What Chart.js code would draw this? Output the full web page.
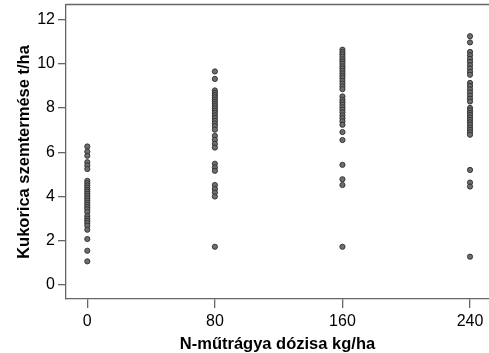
<!DOCTYPE html>
<html>
<head>
<meta charset="utf-8">
<script src="https://cdn.jsdelivr.net/npm/chart.js@4.4.0/dist/chart.umd.min.js"></script>
<style>
  html, body { margin: 0; padding: 0; background: #fff; }
  #wrap { width: 489px; height: 353px; }
</style>
</head>
<body>
<div id="wrap"><canvas id="c" width="489" height="353"></canvas></div>
<script>
// N-fertiliser doses (kg/ha) and the grain yields measured at each dose (t/ha)
const doses = [0, 80, 160, 240];
const yieldAt0 = [6.26, 6.03, 5.84, 5.55, 5.40, 5.24, 4.71, 4.60, 4.50, 4.40, 4.30, 4.22, 4.12, 4.02, 3.92, 3.82,
  3.72, 3.62, 3.52, 3.42, 3.30, 3.12, 3.00, 2.90, 2.80, 2.68, 2.50, 2.08, 1.55, 1.07];
const yieldAt80 = [9.65, 9.31, 8.79, 8.68, 8.58, 8.48, 8.38, 8.28, 8.18, 8.08, 7.98, 7.88, 7.78, 7.66, 7.55, 7.42,
  7.30, 7.18, 7.02, 6.74, 6.56, 6.38, 6.21, 5.48, 5.31, 5.16, 4.52, 4.34, 4.18, 4.00, 1.73];
const yieldAt160 = [10.63, 10.52, 10.42, 10.31, 10.20, 10.10, 10.00, 9.88, 9.78, 9.67, 9.56, 9.45, 9.35, 9.22,
  9.10, 8.97, 8.85, 8.52, 8.37, 8.26, 8.15, 8.03, 7.92, 7.80, 7.66, 7.54, 7.40, 7.24, 6.91, 6.55, 5.43, 4.78,
  4.52, 1.73];
const yieldAt240 = [11.24, 10.96, 10.53, 10.38, 10.22, 10.08, 9.93, 9.78, 9.63, 9.50, 9.13, 8.99, 8.84, 8.70,
  8.56, 8.42, 8.29, 8.00, 7.89, 7.78, 7.68, 7.57, 7.46, 7.35, 7.24, 7.12, 7.01, 6.90, 6.79, 5.20, 4.63, 4.45, 1.28];
const yTicks = [0, 2, 4, 6, 8, 10, 12];

const yieldsByDose = [yieldAt0, yieldAt80, yieldAt160, yieldAt240];
const points = [];
doses.forEach((d, i) => yieldsByDose[i].forEach(v => points.push({ x: d, y: v })));

const axisGrey = '#666666';
const labelFont = { family: "'Liberation Sans', Arial, sans-serif", size: 16 };
const titleFont = { family: "'Liberation Sans', Arial, sans-serif", size: 16.5, weight: 'bold', lineHeight: 1.0 };

// closes the plot frame along the top edge
const frameTop = {
  id: 'frameTop',
  afterDraw(chart) {
    const a = chart.chartArea, ctx = chart.ctx;
    const y = Math.round(a.top) - 0.5;
    ctx.save();
    ctx.strokeStyle = axisGrey;
    ctx.lineWidth = 1.5;
    ctx.beginPath();
    ctx.moveTo(a.left, y);
    ctx.lineTo(a.right, y);
    ctx.stroke();
    ctx.restore();
  }
};

// fixed axis box sizes, without the label overhang padding Chart.js adds
function fixBox(size, horizontal) {
  return s => {
    if (horizontal) s.height = size; else s.width = size;
    s.paddingLeft = 0; s.paddingRight = 0; s.paddingTop = 0; s.paddingBottom = 0;
  };
}

new Chart(document.getElementById('c'), {
  type: 'scatter',
  data: {
    datasets: [{
      data: points,
      pointRadius: 2.6,
      pointHoverRadius: 2.6,
      pointBackgroundColor: '#6e6e6e',
      pointBorderColor: '#2e2e2e',
      pointBorderWidth: 0.9
    }]
  },
  options: {
    responsive: false,
    animation: false,
    devicePixelRatio: 1,
    layout: { autoPadding: false, padding: { top: 5, right: 0, left: 0, bottom: 0 } },
    plugins: { legend: { display: false }, tooltip: { enabled: false } },
    scales: {
      x: {
        type: 'linear',
        min: -13.36,
        max: 251.9,
        afterBuildTicks: s => { s.ticks = doses.map(v => ({ value: v })); },
        afterFit: fixBox(54, true),
        grid: { display: true, drawOnChartArea: false, drawTicks: true, tickLength: 9, color: axisGrey, lineWidth: 1.3 },
        border: { display: true, color: axisGrey, width: 1.3 },
        ticks: { color: '#000', font: labelFont, padding: 4, maxRotation: 0 },
        title: { display: true, text: 'N-műtrágya dózisa kg/ha', color: '#000', font: titleFont, padding: { top: 0, bottom: 0 } }
      },
      y: {
        min: -0.63,
        max: 12.65,
        afterBuildTicks: s => { s.ticks = yTicks.map(v => ({ value: v })); },
        afterFit: fixBox(66, false),
        grid: { display: true, drawOnChartArea: false, drawTicks: true, tickLength: 8, color: axisGrey, lineWidth: 1.3 },
        border: { display: true, color: axisGrey, width: 1.3 },
        ticks: { color: '#000', font: labelFont, padding: 3 },
        title: { display: true, text: 'Kukorica szemtermése t/ha', color: '#000', font: titleFont, padding: { top: 16, bottom: 0 } }
      }
    }
  },
  plugins: [frameTop]
});
</script>
</body>
</html>
